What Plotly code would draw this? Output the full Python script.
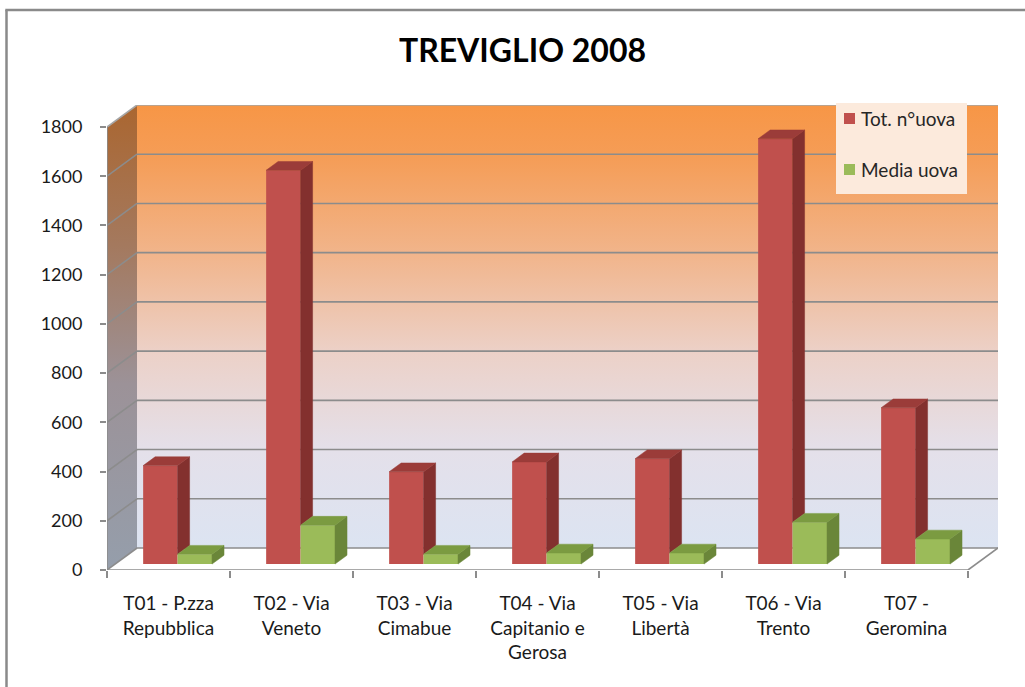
import plotly.graph_objects as go

# ---- data -------------------------------------------------------------
stations = [
    "T01 - P.zza<br>Repubblica",
    "T02 - Via<br>Veneto",
    "T03 - Via<br>Cimabue",
    "T04 - Via<br>Capitanio e<br>Gerosa",
    "T05 - Via<br>Libertà",
    "T06 - Via<br>Trento",
    "T07 -<br>Geromina",
]
tot_uova = [400, 1600, 375, 415, 428, 1728, 635]
media_uova = [40, 158, 40, 45, 45, 170, 102]
y_ticks = [0, 200, 400, 600, 800, 1000, 1200, 1400, 1600, 1800]
series_names = ["Tot. n°uova", "Media uova"]

# ---- pseudo-3D geometry (oblique projection in data units) -------------
N = len(stations)
VMAX = y_ticks[-1]
DX = 0.244          # horizontal shift of the back plane, in categories
DY = 89.4           # vertical shift of the back plane, in value units
D0, D1 = 0.27, 0.67 # depth span of the columns (0 = front, 1 = back)
U0, W = 0.228, 0.28 # first column offset and column width inside a category

RED, RED_SIDE, RED_TOP = "#C0504D", "#83302E", "#9B3C39"
GRN, GRN_SIDE, GRN_TOP = "#9BBB59", "#6A8639", "#7B9B41"
GRID = "#8C8C8C"
FONT = "Lato"


def P(u, v, d):
    return u + d * DX, v + d * DY


def polys(list_of_pts):
    xs, ys = [], []
    for pts in list_of_pts:
        for (x, y) in pts:
            xs.append(x)
            ys.append(y)
        xs.append(pts[0][0])
        ys.append(pts[0][1])
        xs.append(None)
        ys.append(None)
    return xs, ys


def segs(list_of_lines):
    xs, ys = [], []
    for (a, b) in list_of_lines:
        xs += [a[0], b[0], None]
        ys += [a[1], b[1], None]
    return xs, ys


fig = go.Figure()

# back wall with vertical gradient
bw = [P(0, 0, 1), P(N, 0, 1), P(N, VMAX, 1), P(0, VMAX, 1)]
x, y = polys([bw])
fig.add_trace(go.Scatter(
    x=x, y=y, mode="lines", fill="toself", line=dict(width=0),
    fillgradient=dict(type="vertical", colorscale=[
        [0.0, "#DCE4F2"], [0.22, "#E4E0EA"], [0.44, "#ECD1C8"],
        [0.66, "#F1B58C"], [0.88, "#F59D57"], [1.0, "#F79646"]]),
    hoverinfo="skip", showlegend=False, zorder=0))

# side wall
sw = [P(0, 0, 0), P(0, 0, 1), P(0, VMAX, 1), P(0, VMAX, 0)]
x, y = polys([sw])
fig.add_trace(go.Scatter(
    x=x, y=y, mode="lines", fill="toself", line=dict(width=0),
    fillgradient=dict(type="vertical", colorscale=[
        [0.0, "#959EAB"], [0.4, "#9C9298"], [0.7, "#A4795E"], [1.0, "#AA6630"]]),
    hoverinfo="skip", showlegend=False, zorder=0))

# floor
fl = [P(0, 0, 0), P(N, 0, 0), P(N, 0, 1), P(0, 0, 1)]
x, y = polys([fl])
fig.add_trace(go.Scatter(
    x=x, y=y, mode="lines", fill="toself", fillcolor="#FFFFFF",
    line=dict(width=0), hoverinfo="skip", showlegend=False, zorder=0))

# gridlines on back and side walls
lines = []
for v in y_ticks[:-1]:
    lines.append((P(0, v, 1), P(N, v, 1)))
    lines.append((P(0, v, 0), P(0, v, 1)))
x, y = segs(lines)
fig.add_trace(go.Scatter(x=x, y=y, mode="lines", line=dict(color=GRID, width=1.6),
                         hoverinfo="skip", showlegend=False, zorder=0))

# top edges of the walls
x, y = segs([(P(0, VMAX, 0), P(0, VMAX, 1)), (P(0, VMAX, 1), P(N, VMAX, 1))])
fig.add_trace(go.Scatter(x=x, y=y, mode="lines", line=dict(color="#A6A6A6", width=1.6),
                         hoverinfo="skip", showlegend=False, zorder=0))

# front axis lines
x, y = segs([(P(0, 0, 0), P(N, 0, 0)), (P(N, 0, 0), P(N, 0, 1)),
             (P(0, 0, 0), P(0, VMAX, 0))])
fig.add_trace(go.Scatter(x=x, y=y, mode="lines", line=dict(color=GRID, width=1.6),
                         hoverinfo="skip", showlegend=False, zorder=0))

# column front faces
red_x = [i + U0 + W / 2 + D0 * DX for i in range(N)]
grn_x = [i + U0 + W + W / 2 + D0 * DX for i in range(N)]
fig.add_trace(go.Bar(x=red_x, y=tot_uova, base=D0 * DY, width=W, name=series_names[0],
                     marker=dict(color=RED, line=dict(width=0)), showlegend=False, zorder=1))
fig.add_trace(go.Bar(x=grn_x, y=media_uova, base=D0 * DY, width=W, name=series_names[1],
                     marker=dict(color=GRN, line=dict(width=0)), showlegend=False, zorder=1))

# column side and top faces
red_side, red_top, grn_side, grn_top = [], [], [], []
for i in range(N):
    r, g = tot_uova[i], media_uova[i]
    x0, x1, x2 = i + U0, i + U0 + W, i + U0 + 2 * W
    red_side.append([P(x1, g, D0), P(x1, g, D1), P(x1, r, D1), P(x1, r, D0)])
    red_top.append([P(x0, r, D0), P(x1, r, D0), P(x1, r, D1), P(x0, r, D1)])
    grn_side.append([P(x2, 0, D0), P(x2, 0, D1), P(x2, g, D1), P(x2, g, D0)])
    grn_top.append([P(x1, g, D0), P(x2, g, D0), P(x2, g, D1), P(x1, g, D1)])

for pts, col in [(red_side, RED_SIDE), (red_top, RED_TOP),
                 (grn_side, GRN_SIDE), (grn_top, GRN_TOP)]:
    x, y = polys(pts)
    fig.add_trace(go.Scatter(x=x, y=y, mode="lines", fill="toself", fillcolor=col,
                             line=dict(color=col, width=0.5), hoverinfo="skip",
                             showlegend=False, zorder=2))

# ---- layout -------------------------------------------------------------
W_PX, H_PX = 1025, 687
ML, MR, MT, MB = 107, 27, 105, 117
PW, PH = W_PX - ML - MR, H_PX - MT - MB


def px_x(p):
    return (p - ML) / PW


def px_y(p):
    return (H_PX - MB - p) / PH


shapes = [
    # chart border (left and top edges)
    dict(type="line", xref="paper", yref="paper", x0=px_x(6.5), x1=px_x(6.5),
         y0=px_y(700), y1=px_y(10), line=dict(color="#8A8A8A", width=2.5), layer="above"),
    dict(type="line", xref="paper", yref="paper", x0=px_x(5.3), x1=px_x(1030),
         y0=px_y(10), y1=px_y(10), line=dict(color="#8A8A8A", width=2.5), layer="above"),
    # legend box
    dict(type="rect", xref="paper", yref="paper", x0=px_x(836), x1=px_x(967),
         y0=px_y(194), y1=px_y(103), line=dict(width=0), fillcolor="#FCEADC", layer="above"),
    dict(type="rect", xref="paper", yref="paper", x0=px_x(844), x1=px_x(855),
         y0=px_y(124), y1=px_y(113), line=dict(width=0), fillcolor=RED, layer="above"),
    dict(type="rect", xref="paper", yref="paper", x0=px_x(844), x1=px_x(855),
         y0=px_y(175), y1=px_y(164), line=dict(width=0), fillcolor=GRN, layer="above"),
]

annotations = [
    dict(text=series_names[0], xref="paper", yref="paper", x=px_x(859), y=px_y(118),
         xanchor="left", yanchor="middle", showarrow=False,
         font=dict(family=FONT, size=19, color="#262626")),
    dict(text=series_names[1], xref="paper", yref="paper", x=px_x(859), y=px_y(169),
         xanchor="left", yanchor="middle", showarrow=False,
         font=dict(family=FONT, size=19, color="#262626")),
]

fig.update_layout(
    width=W_PX, height=H_PX,
    margin=dict(l=ML, r=MR, t=MT, b=MB, autoexpand=False),
    paper_bgcolor="#FFFFFF", plot_bgcolor="#FFFFFF",
    barmode="overlay",
    showlegend=False,
    title=dict(text="<b>TREVIGLIO 2008</b>", x=522.5 / W_PX, xanchor="center",
               y=1 - 51 / H_PX, yanchor="middle", yref="container",
               font=dict(family=FONT, size=32, color="#000000")),
    shapes=shapes,
    annotations=annotations,
    xaxis=dict(range=[0, N + DX], tickmode="array",
               tickvals=[i + 0.5 for i in range(N)], ticktext=stations,
               ticks="", showgrid=False, zeroline=False, showline=False,
               ticklabelstandoff=20,
               tickfont=dict(family=FONT, size=19, color="#1A1A1A"),
               minor=dict(tickmode="array", tickvals=list(range(N + 1)), ticks="outside",
                          ticklen=7, tickwidth=1.6, tickcolor=GRID, showgrid=False),
               fixedrange=True),
    yaxis=dict(range=[0, VMAX + DY], tickmode="array", tickvals=y_ticks,
               ticks="outside", ticklen=6, tickwidth=1.6, tickcolor=GRID,
               showgrid=False, zeroline=False, showline=False,
               ticklabelstandoff=14,
               tickfont=dict(family=FONT, size=18, color="#1A1A1A"),
               fixedrange=True),
)

fig.write_html("out.html")
